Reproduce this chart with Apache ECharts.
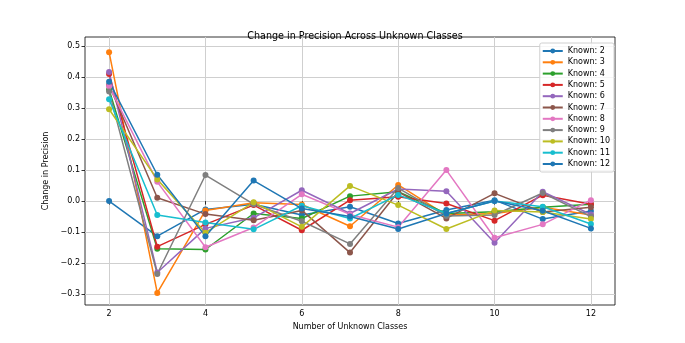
<!DOCTYPE html>
<html>
<head>
<meta charset="utf-8">
<script src="https://cdn.jsdelivr.net/npm/echarts@6/dist/echarts.min.js"></script>
<style>
  html, body { margin: 0; padding: 0; background: #fff; }
  #chart { width: 685px; height: 343px; }
</style>
</head>
<body>
<div id="chart"></div>
<script>
'use strict'
// x positions: number of unknown classes
var unknownClasses = [2, 3, 4, 5, 6, 7, 8, 9, 10, 11, 12]
var xTicks = [2, 4, 6, 8, 10, 12]
var yTicks = [-0.3, -0.2, -0.1, 0.0, 0.1, 0.2, 0.3, 0.4, 0.5]

var known2 = [0.0, -0.113, -0.027, -0.01, -0.045, -0.018, -0.072, -0.029, 0.003, -0.058, -0.032]
var known3 = [0.48, -0.296, -0.03, -0.005, -0.011, -0.081, 0.052, -0.045, -0.04, -0.02, -0.045]
var known4 = [0.36, -0.154, -0.156, -0.04, -0.056, 0.016, 0.03, -0.04, -0.034, -0.02, -0.01]
var known5 = [0.41, -0.147, -0.075, -0.013, -0.094, 0.003, 0.014, -0.008, -0.063, 0.019, -0.01]
var known6 = [0.416, -0.23, -0.088, -0.054, 0.035, -0.04, 0.039, 0.032, -0.134, 0.03, -0.043]
var known7 = [0.374, 0.011, -0.042, -0.062, -0.03, -0.166, 0.03, -0.056, 0.025, -0.035, -0.02]
var known8 = [0.37, 0.062, -0.149, -0.085, 0.022, -0.043, -0.084, 0.1, -0.118, -0.075, 0.003]
var known9 = [0.353, -0.235, 0.084, -0.01, -0.065, -0.138, 0.042, -0.048, -0.045, 0.026, -0.05]
var known10 = [0.296, 0.07, -0.102, -0.004, -0.083, 0.049, -0.013, -0.09, -0.03, -0.035, -0.058]
var known11 = [0.328, -0.045, -0.069, -0.091, -0.015, -0.056, 0.02, -0.04, 0.0, -0.018, -0.074]
var known12 = [0.385, 0.085, -0.113, 0.066, -0.024, -0.05, -0.09, -0.04, 0.0, -0.031, -0.088]

var seriesNames = ['Known: 2', 'Known: 3', 'Known: 4', 'Known: 5', 'Known: 6', 'Known: 7',
  'Known: 8', 'Known: 9', 'Known: 10', 'Known: 11', 'Known: 12']
var seriesValues = [known2, known3, known4, known5, known6, known7, known8, known9, known10, known11, known12]

// matplotlib tab10 cycle (wraps, so Known: 12 is blue again)
var colors = ['#1f77b4', '#ff7f0e', '#2ca02c', '#d62728', '#9467bd', '#8c564b',
  '#e377c2', '#7f7f7f', '#bcbd22', '#17becf', '#1f77b4']

var font = 'DejaVu Sans'

var series = seriesNames.map(function (name, i) {
  return {
    name: name,
    type: 'line',
    data: unknownClasses.map(function (x, j) { return [x, seriesValues[i][j]] }),
    symbol: 'circle',
    symbolSize: 6,
    showAllSymbol: true,
    lineStyle: { width: 1.5, color: colors[i] },
    itemStyle: { color: colors[i] },
    emphasis: { disabled: true }
  }
})

var chart = echarts.init(document.getElementById('chart'), null, { renderer: 'canvas' })

chart.setOption({
  animation: false,
  backgroundColor: '#fff',
  title: {
    text: 'Change in Precision Across Unknown Classes',
    left: 350,
    textAlign: 'center',
    top: 26,
    textStyle: { fontFamily: font, fontSize: 9.6, fontWeight: 'normal', color: '#000' }
  },
  grid: {
    left: 85,
    right: 70,
    top: 37,
    bottom: 38,
    show: true,
    borderColor: '#000',
    borderWidth: 0.8,
    backgroundColor: 'transparent'
  },
  legend: {
    orient: 'vertical',
    right: 71,
    top: 43,
    itemWidth: 20,
    itemHeight: 6,
    itemGap: 3.3,
    backgroundColor: 'rgba(255,255,255,0.8)',
    borderColor: '#d0d0d0',
    borderWidth: 1,
    borderRadius: 2,
    padding: [4, 4, 4, 2],
    textStyle: { fontFamily: font, fontSize: 8, color: '#000' },
    data: seriesNames
  },
  xAxis: {
    type: 'value',
    min: 1.5,
    max: 12.5,
    splitNumber: 5,
    minInterval: 2,
    maxInterval: 2,
    name: 'Number of Unknown Classes',
    nameLocation: 'middle',
    nameGap: 17,
    nameTextStyle: { fontFamily: font, fontSize: 8, color: '#000' },
    axisLine: { show: false },
    axisTick: { show: true, length: 3.5, lineStyle: { color: '#000', width: 0.8 }, customValues: xTicks },
    axisLabel: { fontFamily: font, fontSize: 8, color: '#000', margin: 5, customValues: xTicks },
    splitLine: { show: true, lineStyle: { color: '#cfcfcf', width: 1 } }
  },
  yAxis: {
    type: 'value',
    min: -0.335,
    max: 0.529,
    splitNumber: 8,
    minInterval: 0.1,
    maxInterval: 0.1,
    name: 'Change in Precision',
    nameLocation: 'middle',
    nameGap: 34,
    nameTextStyle: { fontFamily: font, fontSize: 8, color: '#000' },
    axisLine: { show: false },
    axisTick: { show: true, length: 3.5, lineStyle: { color: '#000', width: 0.8 }, customValues: yTicks },
    axisLabel: {
      fontFamily: font, fontSize: 8, color: '#000', margin: 5, customValues: yTicks,
      formatter: function (v) { return v < 0 ? '\u2212' + Math.abs(v).toFixed(1) : v.toFixed(1) }
    },
    splitLine: { show: true, lineStyle: { color: '#cfcfcf', width: 1 } }
  },
  series: series
})
</script>
</body>
</html>
